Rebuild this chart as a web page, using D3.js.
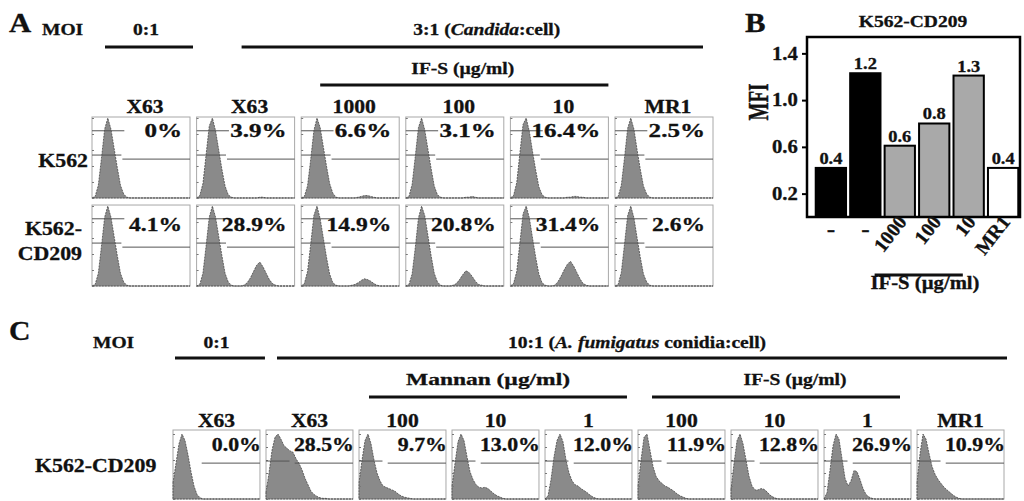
<!DOCTYPE html>
<html>
<head>
<meta charset="utf-8">
<script src="https://cdn.jsdelivr.net/npm/d3@7"></script>
<style>
  body { margin: 0; background: #fff; }
  svg { display: block; }
  text { font-family: "Liberation Serif", "Times New Roman", serif; font-weight: bold; fill: #111; stroke: #111; stroke-width: 0.3; }
</style>
</head>
<body>
<div id="holder"></div>
<script>
const w = 1024;
const h = 501;
const SX = 1.15; // the figure's lettering is a bit wide

// PANEL A DATA
const colsA = ["X63", "X63", "1000", "100", "10", "MR1"];
const rowsA = ["K562", "K562-CD209"];
const pctK562 = ["0%", "3.9%", "6.6%", "3.1%", "16.4%", "2.5%"];
const pctCD209 = ["4.1%", "28.9%", "14.9%", "20.8%", "31.4%", "2.6%"];

// histogram counts, 32 bins per plot (percent of the tallest bin)
const histK562 = [
  [0,2,16,50,86,100,86,62,38,16,5,1,0,0,0,0,0,0,0,0,0,0,0,0,0,0,0,0,0,0,0,0],
  [0,3,18,54,90,100,84,60,36,15,4,1,0,0,0,0,0,0,0,0,1,1,0,0,0,0,0,0,0,0,0,0],
  [0,2,15,48,84,100,88,64,40,18,6,1,0,0,0,0,0,0,1,2,3,3,2,1,0,0,0,0,0,0,0,0],
  [0,2,17,52,88,100,85,61,37,15,4,1,0,0,0,0,0,0,0,1,1,2,1,0,0,0,0,0,0,0,0,0],
  [0,3,19,56,92,100,83,58,35,14,4,1,0,0,0,0,0,0,1,1,2,2,1,1,0,0,0,0,0,0,0,0],
  [0,2,16,50,87,100,86,60,36,15,5,1,0,0,0,0,0,0,0,0,0,0,0,0,0,0,0,0,0,0,0,0]
];
const histCD209 = [
  [0,2,16,50,86,100,86,62,38,16,5,1,0,0,0,0,0,0,0,0,0,0,0,0,0,0,0,0,0,0,0,0],
  [0,2,16,50,86,100,86,62,38,16,5,1,0,0,0,1,4,10,18,26,30,24,16,8,3,1,0,0,0,0,0,0],
  [0,3,18,52,88,100,84,60,36,15,4,1,0,0,0,0,1,2,4,7,9,8,6,3,1,0,0,0,0,0,0,0],
  [0,2,15,48,85,100,88,63,38,16,5,1,0,0,0,1,3,8,14,19,17,12,6,2,1,0,0,0,0,0,0,0],
  [0,3,18,54,90,100,85,60,36,15,4,1,0,0,1,5,12,20,27,31,25,17,9,3,1,0,0,0,0,0,0,0],
  [0,2,17,52,88,100,85,60,36,15,5,1,0,0,0,0,0,0,0,0,0,0,0,0,0,0,0,0,0,0,0,0]
];

// PANEL B DATA
const mfiCats = ["-", "-", "1000", "100", "10", "MR1"];
const mfiValues = [0.42, 1.23, 0.61, 0.80, 1.21, 0.42];
const mfiLabels = ["0.4", "1.2", "0.6", "0.8", "1.3", "0.4"];
const mfiGroup = ["ctrl", "ctrl", "ifs", "ifs", "ifs", "mr1"];
const mfiTicks = [0.2, 0.6, 1.0, 1.4];

// PANEL C DATA
const colsC = ["X63", "X63", "100", "10", "1", "100", "10", "1", "MR1"];
const pctC = ["0.0%", "28.5%", "9.7%", "13.0%", "12.0%", "11.9%", "12.8%", "26.9%", "10.9%"];
// 30 bins per plot
const histC = [
  [25,55,85,100,90,68,42,20,7,2,0,0,0,0,0,0,0,0,0,0,0,0,0,0,0,0,0,0,0,0],
  [10,40,75,95,100,92,82,78,74,72,62,55,45,32,22,12,7,4,2,1,1,0,0,0,0,0,0,0,0,0],
  [25,60,90,100,85,60,40,28,20,18,16,14,12,8,5,3,2,1,0,0,0,0,0,0,0,0,0,0,0,0],
  [20,55,88,100,90,65,42,30,22,18,17,18,16,12,8,5,3,1,0,0,0,0,0,0,0,0,0,0,0,0],
  [0,5,30,65,90,100,88,60,40,28,22,20,16,13,10,6,3,1,0,0,0,0,0,0,0,0,0,0,0,0],
  [20,60,95,100,75,50,35,28,24,20,18,15,12,8,5,3,1,0,0,0,0,0,0,0,0,0,0,0,0,0],
  [15,55,90,100,85,60,35,20,14,14,16,15,11,6,3,1,0,0,0,0,0,0,0,0,0,0,0,0,0,0],
  [0,10,45,82,100,92,62,32,20,28,44,42,30,16,7,3,1,0,0,0,0,0,0,0,0,0,0,0,0,0],
  [25,70,100,92,70,50,38,30,24,18,14,10,6,3,1,0,0,0,0,0,0,0,0,0,0,0,0,0,0,0]
];

// CREATE SVG
const svg = d3.select("#holder")
  .append("svg")
  .attr("width", w)
  .attr("height", h);

function label(x, y, str, size, anchor, sx) {
  return svg.append("text")
    .attr("transform", `translate(${x},${y}) scale(${sx || SX},1)`)
    .attr("font-size", size)
    .attr("text-anchor", anchor || "start")
    .text(str);
}

function rule(x1, x2, y) {
  svg.append("line")
    .attr("x1", x1).attr("x2", x2)
    .attr("y1", y).attr("y2", y)
    .attr("stroke", "#111")
    .attr("stroke-width", 3);
}

// one flow histogram with its frame, markers and percentage
function histogram(x0, y0, bw, bh, counts, pct, opt) {
  const g = svg.append("g");
  const xh = d3.scaleLinear().domain([0, counts.length - 1]).range([x0, x0 + bw]);
  const yh = d3.scaleLinear().domain([0, 100]).range([y0 + bh, y0 + opt.top]);

  g.append("rect")
    .attr("x", x0).attr("y", y0)
    .attr("width", bw).attr("height", bh)
    .attr("fill", "none")
    .attr("stroke", "#a8a8a8")
    .attr("stroke-width", 1);

  const area = d3.area()
    .x((d, i) => xh(i))
    .y0(y0 + bh)
    .y1(d => yh(d));

  g.append("path")
    .datum(counts)
    .attr("d", area)
    .attr("fill", "#8a8a8a")
    .attr("stroke", "#3a3a3a")
    .attr("stroke-width", 0.7)
    .attr("stroke-dasharray", "2,1");

  // little ticks on the left edge
  const ax = g.append("g")
    .attr("transform", `translate(${x0},0)`)
    .call(d3.axisLeft(yh).ticks(5).tickSize(-2).tickFormat(""));
  ax.select(".domain").remove();
  ax.selectAll("line").attr("stroke", "#777");

  // markers
  opt.markers.forEach(m => {
    g.append("line")
      .attr("x1", x0 + m[0] * bw).attr("x2", x0 + m[1] * bw)
      .attr("y1", y0 + m[2] * bh).attr("y2", y0 + m[2] * bh)
      .attr("stroke", "#555")
      .attr("stroke-width", 1);
  });

  g.append("text")
    .attr("transform", `translate(${x0 + bw + opt.dx},${y0 + opt.dy}) scale(${opt.sx},1)`)
    .attr("font-size", opt.size)
    .attr("text-anchor", "end")
    .text(pct);
}

// ================= PANEL A =================
const xA = d3.scaleBand()
  .domain(d3.range(colsA.length))
  .range([92, 713])
  .paddingInner(0.063);

const yA = d3.scaleBand()
  .domain(rowsA)
  .range([117, 286])
  .paddingInner(0.08);

label(9, 32, "A", 28, "start", 1.1);
label(42, 35, "MOI", 17);
label(xA(0) + xA.bandwidth() / 2 + 5, 35, "0:1", 17, "middle");
rule(xA(0) + 13, xA(0) + xA.bandwidth() + 3, 47);

const t31 = svg.append("text")
  .attr("transform", `translate(${(xA(1) + xA(5) + xA.bandwidth()) / 2 + 32},35) scale(${SX},1)`)
  .attr("font-size", 17)
  .attr("text-anchor", "middle");
t31.append("tspan").text("3:1 (");
t31.append("tspan").attr("font-style", "italic").text("Candida");
t31.append("tspan").text(":cell)");
rule(xA(1) + 45, xA(5) + xA.bandwidth() - 10, 47);

label((xA(2) + xA(4) + xA.bandwidth()) / 2 + 8, 74, "IF-S (\u00b5g/ml)", 17, "middle");
rule(xA(2) + 19, xA(4) + xA.bandwidth(), 85);

colsA.forEach((c, i) => {
  label(xA(i) + xA.bandwidth() / 2 + 4, 113, c, 18, "middle", 1.2);
});

label(88, 167, "K562", 19, "end");
label(82, 235, "K562-", 19, "end");
label(82, 260, "CD209", 19, "end");

const markersA = [[0, 0.33, 0.17], [0, 0.3, 0.47], [0.31, 1, 0.52]];

colsA.forEach((c, i) => {
  histogram(xA(i), yA("K562"), xA.bandwidth(), yA.bandwidth(), histK562[i], pctK562[i],
    { top: 1, markers: markersA, dx: -8, dy: 20, size: 19, sx: 1.32 });
  histogram(xA(i), yA("K562-CD209"), xA.bandwidth(), yA.bandwidth(), histCD209[i], pctCD209[i],
    { top: 1, markers: markersA, dx: -8, dy: 26, size: 19, sx: 1.24 });
});

// ================= PANEL B =================
const yB = d3.scaleLinear().domain([0, 1.54]).range([217, 37]);
const xB = d3.scaleBand()
  .domain(d3.range(mfiValues.length))
  .range([814, 1020])
  .paddingInner(0.12)
  .paddingOuter(0.05);
const fillB = { ctrl: "#000", ifs: "#a9a9a9", mr1: "#fff" };

label(745, 32, "B", 28, "start", 1.1);
label(913, 27, "K562-CD209", 17, "middle");

svg.selectAll(".bar")
  .data(mfiValues)
  .enter()
  .append("rect")
  .attr("class", "bar")
  .attr("x", (d, i) => xB(i))
  .attr("y", d => yB(d))
  .attr("width", xB.bandwidth())
  .attr("height", d => yB(0) - yB(d))
  .attr("fill", (d, i) => fillB[mfiGroup[i]])
  .attr("stroke", "#000")
  .attr("stroke-width", 2);

svg.selectAll(".barlab")
  .data(mfiValues)
  .enter()
  .append("text")
  .attr("class", "barlab")
  .attr("transform", (d, i) => `translate(${xB(i) + xB.bandwidth() / 2},${yB(d) - 4}) scale(${SX},1)`)
  .attr("font-size", 16)
  .attr("text-anchor", "middle")
  .text((d, i) => mfiLabels[i]);

svg.append("rect")
  .attr("x", 807).attr("y", yB.range()[1])
  .attr("width", 213).attr("height", yB.range()[0] - yB.range()[1])
  .attr("fill", "none")
  .attr("stroke", "#000")
  .attr("stroke-width", 2.5);

const yAxisB = svg.append("g")
  .attr("transform", "translate(807,0)")
  .call(d3.axisLeft(yB).tickValues(mfiTicks).tickSize(5).tickPadding(3).tickFormat(d3.format(".1f")));
yAxisB.select(".domain").remove();
yAxisB.selectAll("line").attr("stroke", "#000").attr("stroke-width", 2);
yAxisB.selectAll("text")
  .attr("font-size", 18)
  .attr("fill", "#111")
  .attr("transform", `scale(${SX},1)`);

svg.append("text")
  .attr("transform", "translate(768,102) scale(1.55,1) rotate(-90)")
  .attr("font-size", 19)
  .attr("text-anchor", "middle")
  .text("MFI");

mfiCats.forEach((c, i) => {
  const cx = xB(i) + xB.bandwidth() / 2;
  if (c === "-") {
    label(cx, 236, c, 22, "middle");
  } else {
    svg.append("text")
      .attr("transform", `translate(${cx + 8},222) rotate(-52)`)
      .attr("font-size", 20)
      .attr("text-anchor", "end")
      .text(c);
  }
});
rule(xB(2) - 10, xB(4) + xB.bandwidth() - 21, 275);
label(925, 289, "IF-S (\u00b5g/ml)", 18, "middle");

// ================= PANEL C =================
const xC = d3.scaleBand()
  .domain(d3.range(colsC.length))
  .range([173, 1004])
  .paddingInner(0.065);
const cTop = 430;
const cH = 69;

label(9, 340, "C", 27, "start", 1.1);
label(93, 348, "MOI", 17);
label(xC(0) + xC.bandwidth() / 2, 348, "0:1", 17, "middle");
rule(xC(0) + 2, xC(0) + xC.bandwidth() + 5, 358);

const t10 = svg.append("text")
  .attr("transform", `translate(637,348) scale(${SX},1)`)
  .attr("font-size", 17)
  .attr("text-anchor", "middle");
t10.append("tspan").text("10:1 (");
t10.append("tspan").attr("font-style", "italic").text("A. fumigatus");
t10.append("tspan").text(" conidia:cell)");
rule(xC(1) + 11, xC(8) + xC.bandwidth() + 3, 358);

label(488, 385, "Mannan (\u00b5g/ml)", 17, "middle", 1.38);
rule(xC(2) + 10, xC(4) + xC.bandwidth() - 5, 397);
label(795, 385, "IF-S (\u00b5g/ml)", 17, "middle");
rule(xC(5) + 14, xC(7) + xC.bandwidth() - 11, 397);

colsC.forEach((c, i) => {
  label(xC(i) + xC.bandwidth() / 2, 427, c, 18, "middle", 1.2);
});
label(35, 472, "K562-CD209", 19);

const markersC = [[0, 0.27, 0.45], [0.33, 1, 0.48]];
colsC.forEach((c, i) => {
  histogram(xC(i), cTop, xC.bandwidth(), cH, histC[i], pctC[i],
    { top: 4, markers: i === 0 ? [markersC[1]] : markersC, dx: 1, dy: 21, size: 19, sx: SX });
});
</script>
</body>
</html>
